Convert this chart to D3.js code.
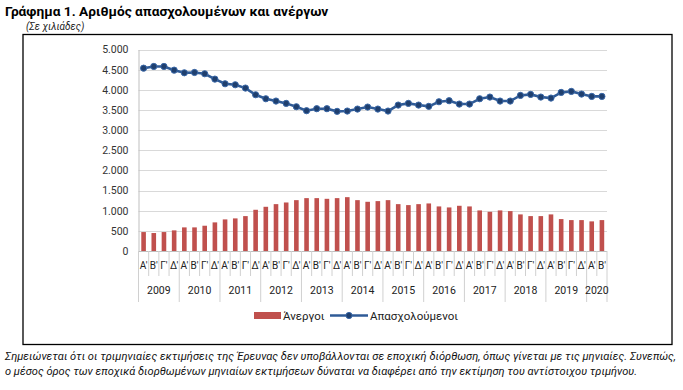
<!DOCTYPE html>
<html><head><meta charset="utf-8">
<script src="https://cdn.jsdelivr.net/npm/d3@7"></script>
<style>body{margin:0;background:#fff;}svg{display:block;}text{font-family:Roboto,"Noto Sans",sans-serif;}</style>
</head><body>
<svg id="c" width="683" height="390"></svg>
<script>
const years = ["2009","2010","2011","2012","2013","2014","2015","2016","2017","2018","2019","2020"];
const quarterNames = ["Α'","Β'","Γ'","Δ'"];
const quarterCounts = [4,4,4,4,4,4,4,4,4,4,4,2];
const unemployed = [470,446,470,512,586,586,627,710,784,809,866,1023,1097,1163,1204,1262,1312,1312,1295,1312,1336,1262,1221,1238,1262,1163,1139,1163,1180,1106,1081,1122,1106,1007,973,1007,990,908,866,866,908,792,767,767,735,767];
const employed = [4537,4579,4579,4488,4422,4430,4398,4265,4150,4125,4043,3877,3778,3721,3663,3580,3481,3531,3531,3465,3473,3522,3572,3522,3473,3621,3663,3621,3589,3704,3729,3646,3646,3778,3820,3721,3721,3861,3886,3820,3795,3935,3960,3894,3836,3836];
const yTicks = [0,500,1000,1500,2000,2500,3000,3500,4000,4500,5000];
const seriesNames = ["Άνεργοι","Απασχολούμενοι"];
const title = "Γράφημα 1. Αριθμός απασχολουμένων και ανέργων";
const subtitle = "(Σε χιλιάδες)";
const notes = ["Σημειώνεται ότι οι τριμηνιαίες εκτιμήσεις της Έρευνας δεν υποβάλλονται σε εποχική διόρθωση, όπως γίνεται με τις μηνιαίες. Συνεπώς,",
"ο μέσος όρος των εποχικά διορθωμένων μηνιαίων εκτιμήσεων δύναται να διαφέρει από την εκτίμηση του αντίστοιχου τριμήνου."];

const cats = [];
years.forEach((y,i)=>{for(let q=0;q<quarterCounts[i];q++) cats.push({key:y+"Q"+(q+1), year:y, q:quarterNames[q]});});
const keys = cats.map(d=>d.key);

const svg = d3.select("#c");
svg.append("text").attr("x",5).attr("y",16).attr("font-size",13.7).attr("font-weight","bold").attr("fill","#000").text(title);
svg.append("text").attr("x",26).attr("y",30).attr("font-size",10).attr("font-style","italic").attr("fill","#222").text(subtitle);
svg.append("rect").attr("x",23).attr("y",34.5).attr("width",649).attr("height",310).attr("fill","none").attr("stroke","#000").attr("stroke-width",1.3);

const L=138.5, R=607, T=49.5, B=251;
const x = d3.scaleBand().domain(keys).range([L,R]).paddingInner(0).paddingOuter(0);
const y = d3.scaleLinear().domain([0,5000]).range([B,T]);

// grid
svg.append("g").selectAll("line").data(yTicks.slice(1)).join("line")
  .attr("x1",L).attr("x2",R).attr("y1",d=>Math.round(y(d))+0.5).attr("y2",d=>Math.round(y(d))+0.5)
  .attr("stroke","#d9d9d9").attr("stroke-width",1);
const ya = svg.append("g").attr("transform",`translate(${L},0)`)
  .call(d3.axisLeft(y).tickValues(yTicks).tickSize(0).tickPadding(10).tickFormat(d=>d3.format(",")(d).replace(/,/g,".")));
ya.select(".domain").attr("stroke","#bfbfbf");
ya.selectAll("text").attr("font-size",10.5).attr("fill","#333").attr("font-family","Roboto,sans-serif");

// bars
const bw = 4.6;
svg.append("g").selectAll("rect").data(unemployed).join("rect")
  .attr("x",(d,i)=>x(keys[i])+x.bandwidth()/2-bw/2).attr("width",bw)
  .attr("y",d=>y(d)).attr("height",d=>B-y(d)).attr("fill","#c0504d");

// x axis line
svg.append("line").attr("x1",L).attr("x2",R).attr("y1",B+0.5).attr("y2",B+0.5).attr("stroke","#bfbfbf");
// separators
const xg = svg.append("g");
cats.forEach((c,i)=>{
  const xx = x(c.key);
  const isYearStart = i===0 || cats[i-1].year!==c.year;
  xg.append("line").attr("x1",xx).attr("x2",xx).attr("y1",B).attr("y2",isYearStart?302:276).attr("stroke","#d0d0d0");
  xg.append("text").attr("x",xx+x.bandwidth()/2).attr("y",269).attr("text-anchor","middle").attr("font-size",10).attr("fill","#222").text(c.q);
});
xg.append("line").attr("x1",R).attr("x2",R).attr("y1",B).attr("y2",302).attr("stroke","#d0d0d0");
years.forEach(yr=>{
  const ks = cats.filter(c=>c.year===yr);
  const x0 = x(ks[0].key), x1 = x(ks[ks.length-1].key)+x.bandwidth();
  xg.append("text").attr("x",(x0+x1)/2).attr("y",294).attr("text-anchor","middle").attr("font-size",10.5).attr("fill","#222").text(yr);
});

// line
const line = d3.line().x((d,i)=>x(keys[i])+x.bandwidth()/2).y(d=>y(d));
svg.append("path").datum(employed).attr("d",line).attr("fill","none").attr("stroke","#2f5b97").attr("stroke-width",2.6);
svg.append("g").selectAll("circle").data(employed).join("circle")
  .attr("cx",(d,i)=>x(keys[i])+x.bandwidth()/2).attr("cy",d=>y(d)).attr("r",3.1)
  .attr("fill","#1f3f6e").attr("stroke","#3a68a8").attr("stroke-width",1);

// legend
const lg = svg.append("g");
lg.append("rect").attr("x",254).attr("y",312).attr("width",27).attr("height",7).attr("fill","#c0504d");
lg.append("text").attr("x",283).attr("y",320).attr("font-size",11.5).attr("fill","#222").text(seriesNames[0]);
lg.append("line").attr("x1",330).attr("x2",368).attr("y1",315.5).attr("y2",315.5).attr("stroke","#2f5b97").attr("stroke-width",2.6);
lg.append("circle").attr("cx",349).attr("cy",315.5).attr("r",3.1).attr("fill","#1f3f6e").attr("stroke","#3a68a8");
lg.append("text").attr("x",370).attr("y",320).attr("font-size",11.5).attr("fill","#222").text(seriesNames[1]);

// notes
svg.append("text").attr("x",5).attr("y",360).attr("font-size",10).attr("font-style","italic").attr("fill","#111")
  .attr("textLength",671).attr("lengthAdjust","spacingAndGlyphs").text(notes[0]);
svg.append("text").attr("x",5).attr("y",375).attr("font-size",10).attr("font-style","italic").attr("fill","#111")
  .attr("textLength",632).attr("lengthAdjust","spacingAndGlyphs").text(notes[1]);
</script>
</body></html>
